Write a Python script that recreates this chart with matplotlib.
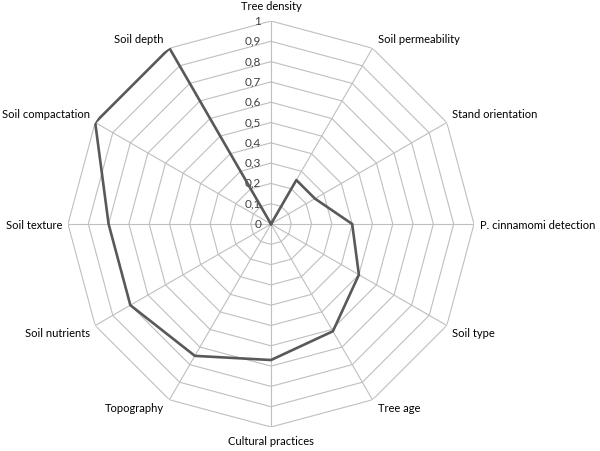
import matplotlib
matplotlib.use("Agg")
import matplotlib.pyplot as plt
import numpy as np

categories = ["Tree density", "Soil permeability", "Stand orientation",
              "P. cinnamomi detection", "Soil type", "Tree age",
              "Cultural practices", "Topography", "Soil nutrients",
              "Soil texture", "Soil compactation", "Soil depth"]
values = [0.0, 0.25, 0.25, 0.40, 0.50, 0.61, 0.67, 0.75, 0.80, 0.80, 1.0, 1.0]
levels = [0, 0.1, 0.2, 0.3, 0.4, 0.5, 0.6, 0.7, 0.8, 0.9, 1.0]
level_labels = ["0", "0,1", "0,2", "0,3", "0,4", "0,5", "0,6", "0,7", "0,8", "0,9", "1"]

GRID = "#BFBFBF"
LINE = "#595959"
TXT = "#404040"

plt.rcParams["font.family"] = ["Lato", "DejaVu Sans"]

n = len(categories)
theta = np.arange(n) * 2 * np.pi / n
theta_closed = np.append(theta, theta[0])

fig = plt.figure(figsize=(6.0, 4.51), dpi=100)
ax = fig.add_axes([0.1133, 0.0532, 0.6767, 0.9002], projection="polar")
ax.set_theta_zero_location("N")
ax.set_theta_direction(-1)
ax.set_ylim(0, 1)
ax.grid(False)
ax.spines["polar"].set_visible(False)
ax.set_xticks([])
ax.set_yticks([])

# polygonal grid
for lv in levels[1:]:
    ax.plot(theta_closed, [lv] * (n + 1), color=GRID, linewidth=0.8, zorder=1)
for t in theta:
    ax.plot([t, t], [0, 1], color=GRID, linewidth=0.8, zorder=1)

# data line
vals_closed = values + values[:1]
ax.plot(theta_closed, vals_closed, color=LINE, linewidth=1.9, zorder=3)

# value labels along the top spoke
for lv, lab in zip(levels, level_labels):
    ax.annotate(lab, xy=(0, lv), xytext=(-7, 0), textcoords="offset points",
                ha="right", va="center", fontsize=8.5, color=TXT, zorder=2)

# category labels
for t, lab in zip(theta, categories):
    s, c = np.sin(t), np.cos(t)
    if abs(s) < 1e-6:
        ha = "center"
    elif s > 0:
        ha = "left"
    else:
        ha = "right"
    if abs(c) < 1e-6:
        dy = -1
    elif c > 0:
        dy = 6
    else:
        dy = -6
    if ha == "center":
        dy = 10.5 if c > 0 else -10.5
        dx = 0
    else:
        dx = 4 if s > 0 else -4
    ax.annotate(lab, xy=(t, 1), xytext=(dx, dy), textcoords="offset points",
                ha=ha, va="center", fontsize=8, color="#000000")

fig.savefig("out.png", dpi=100)
